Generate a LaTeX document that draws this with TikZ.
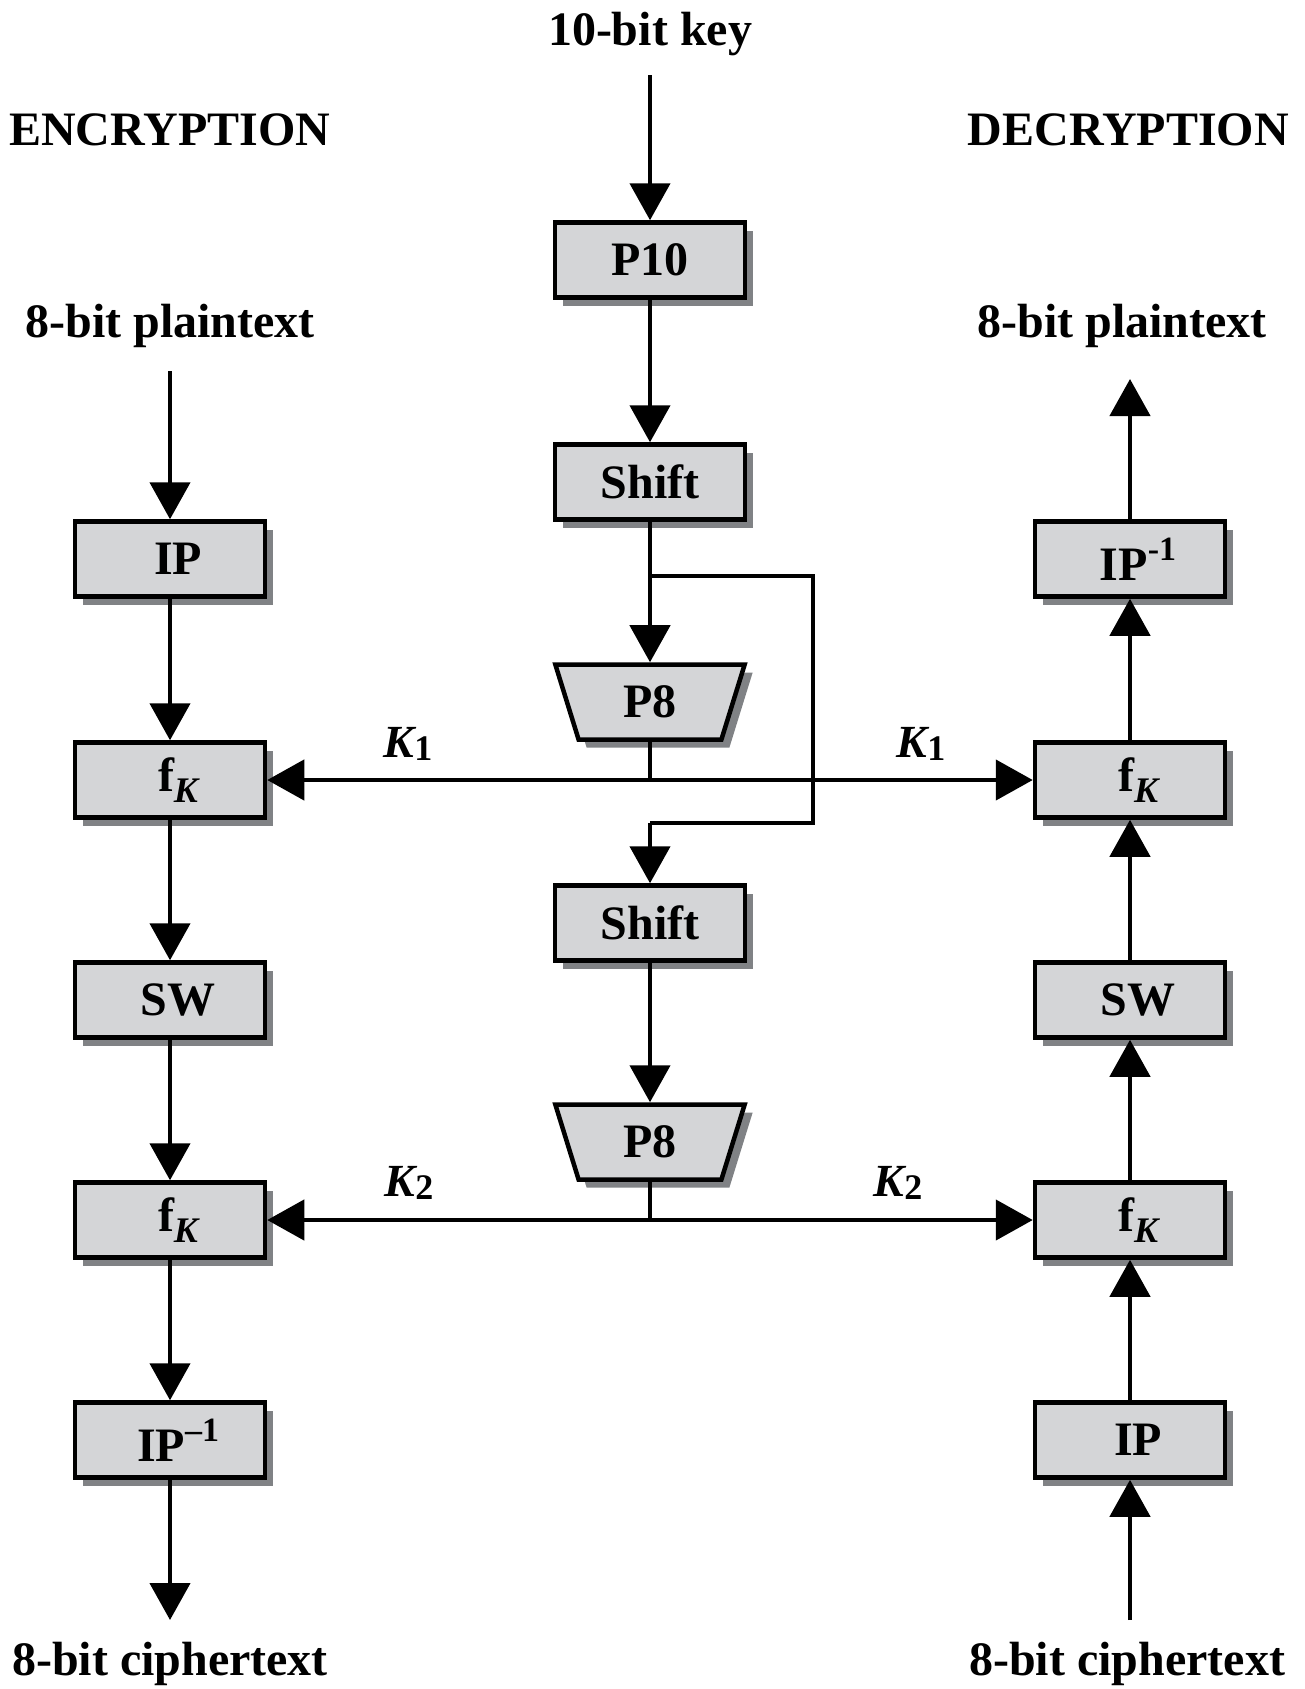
\documentclass[tikz,border=0pt]{standalone}
\usepackage{fontspec}
\setmainfont{Liberation Serif}
\usetikzlibrary{arrows.meta,shapes.geometric,shadows}
\definecolor{boxfill}{HTML}{D4D5D7}
\definecolor{shadowc}{HTML}{808285}
\newcommand{\subK}{\raisebox{-0.22em}{\fontsize{36}{36}\selectfont\itshape K}}
\newcommand{\supm}[1]{\raisebox{0.42em}{\fontsize{34}{34}\selectfont #1}}
\newcommand{\keylab}[1]{{\fontsize{46}{46}\selectfont\bfseries\itshape K}\raisebox{-0.3em}{\fontsize{36}{36}\selectfont\bfseries #1}}
\newcommand{\sidetxt}[1]{\hspace*{16pt}#1}
\tikzset{
  blk/.style={draw=black, line width=4.5pt, fill=boxfill, minimum width=190pt,
    minimum height=75pt, inner sep=0pt, font=\fontsize{48}{48}\selectfont\bfseries,
    drop shadow={shadow xshift=8pt, shadow yshift=-8pt, fill=shadowc, opacity=1}},
  trap/.style={blk, trapezium, shape border rotate=180, trapezium angle=75,
    trapezium stretches=true},
  lbl/.style={font=\fontsize{48}{48}\selectfont\bfseries, inner sep=0pt, anchor=base},
  klbl/.style={inner sep=0pt, anchor=base},
  arr/.style={line width=4.5pt, -{Triangle[width=40pt,length=37pt]}},
  ln/.style={line width=4.5pt},
}
\begin{document}
\begin{tikzpicture}[x=1pt,y=-1pt]
\useasboundingbox (0,0) rectangle (1305,1689);
% labels
\node[lbl] (key) at (650,45) {10-bit key};
\node[lbl,anchor=base west] (enc) at (9,145) {ENCRYPTION};
\node[lbl,anchor=base east] (dec) at (1289,145) {DECRYPTION};
\node[lbl] (ptL) at (170,337) {8-bit plaintext};
\node[lbl] (ptR) at (1122,337) {8-bit plaintext};
\node[lbl] (ctL) at (170,1675) {8-bit ciphertext};
\node[lbl] (ctR) at (1127,1675) {8-bit ciphertext};
% key schedule
\node[blk] (P10) at (650,260) {P10};
\node[blk] (S1) at (650,482) {Shift};
\node[trap] (P8a) at (650,702) {P8};
\node[blk] (S2) at (650,923) {Shift};
\node[trap] (P8b) at (650,1142) {P8};
% encryption
\node[blk] (IPL) at (170,559) {\sidetxt{IP}};
\node[blk] (fL1) at (170,780) {\sidetxt{f\subK}};
\node[blk] (SWL) at (170,1000) {\sidetxt{SW}};
\node[blk] (fL2) at (170,1220) {\sidetxt{f\subK}};
\node[blk] (IPiL) at (170,1440) {\sidetxt{IP\supm{–1}}};
% decryption
\node[blk] (IPiR) at (1130,559) {\sidetxt{IP\supm{-1}}};
\node[blk] (fR1) at (1130,780) {\sidetxt{f\subK}};
\node[blk] (SWR) at (1130,1000) {\sidetxt{SW}};
\node[blk] (fR2) at (1130,1220) {\sidetxt{f\subK}};
\node[blk] (IPR) at (1130,1440) {\sidetxt{IP}};
% key labels
\node[klbl] (k1L) at (408,757) {\keylab{1}};
\node[klbl] (k1R) at (921,757) {\keylab{1}};
\node[klbl] (k2L) at (409,1196) {\keylab{2}};
\node[klbl] (k2R) at (898,1196) {\keylab{2}};
% coordinates
\coordinate (kin) at (650,75);
\coordinate (b1) at (650,576);
\coordinate (b2) at (813,823);
\coordinate (pinL) at (170,371);
\coordinate (coutL) at (170,1620);
\coordinate (cinR) at (1130,1620);
\coordinate (poutR) at (1130,379);
\coordinate (j1) at (P8a.south |- fL1);
\coordinate (j2) at (P8b.south |- fL2);
% key schedule connectors
\draw[arr] (kin) -- (P10);
\draw[arr] (P10) -- (S1);
\draw[arr] (S1) -- (P8a);
\draw[ln] (b1) -| (b2) -- (b2 -| S2) coordinate (b3);
\draw[arr] (b3) -- (S2);
\draw[arr] (S2) -- (P8b);
\draw[ln] (P8a.south) -- (j1);
\draw[arr] (j1) -- (fL1);
\draw[arr] (j1) -- (fR1);
\draw[ln] (P8b.south) -- (j2);
\draw[arr] (j2) -- (fL2);
\draw[arr] (j2) -- (fR2);
% encryption chain
\draw[arr] (pinL) -- (IPL);
\draw[arr] (IPL) -- (fL1);
\draw[arr] (fL1) -- (SWL);
\draw[arr] (SWL) -- (fL2);
\draw[arr] (fL2) -- (IPiL);
\draw[arr] (IPiL) -- (coutL);
% decryption chain
\draw[arr] (cinR) -- (IPR);
\draw[arr] (IPR) -- (fR2);
\draw[arr] (fR2) -- (SWR);
\draw[arr] (SWR) -- (fR1);
\draw[arr] (fR1) -- (IPiR);
\draw[arr] (IPiR) -- (poutR);
\end{tikzpicture}
\end{document}
